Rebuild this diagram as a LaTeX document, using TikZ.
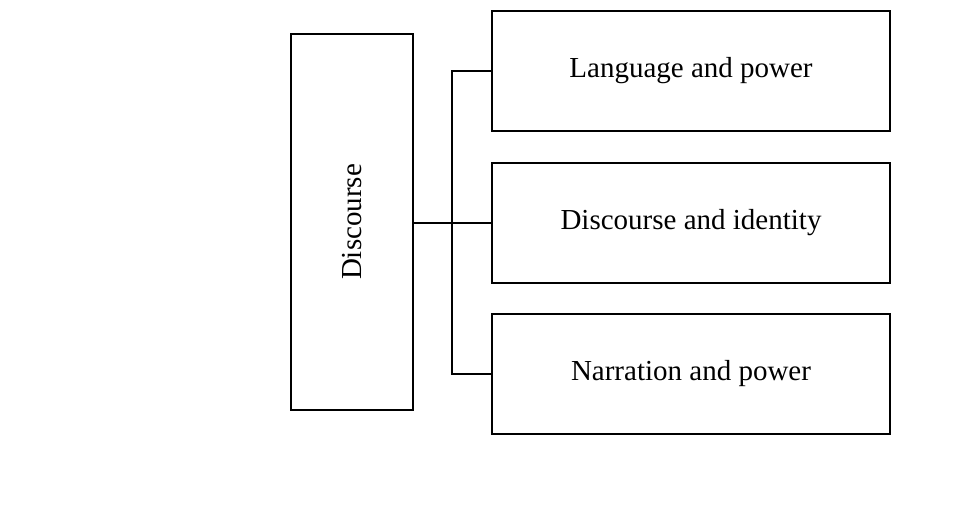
\documentclass[tikz,border=0pt]{standalone}
\usepackage{fontspec}
\setmainfont{Liberation Serif}

\begin{document}
\begin{tikzpicture}[x=0.75pt,y=-0.75pt,
    line width=1.5pt,
    txt/.style={font=\fontsize{21.75}{26}\selectfont},
    topic/.style={draw,txt,minimum width=298.5pt,minimum height=90pt}]
    \useasboundingbox (0,0) rectangle (979,515);
    \node[draw,minimum width=91.5pt,minimum height=282pt] (disc) at (352,222) {};
    \node[txt,rotate=90] (disclabel) at (disc.center) {Discourse};
    \node[topic] (lang) at (691,70.7) {Language and power};
    \node[topic] (ident) at (691,222.7) {Discourse and identity};
    \node[topic] (narr) at (691,374) {Narration and power};
    \coordinate (spine) at (452,222.7);
    \draw (disc.east |- spine) -- (ident.west);
    \draw (lang.west) -| (spine) |- (narr.west);
  \end{tikzpicture}
\end{document}
